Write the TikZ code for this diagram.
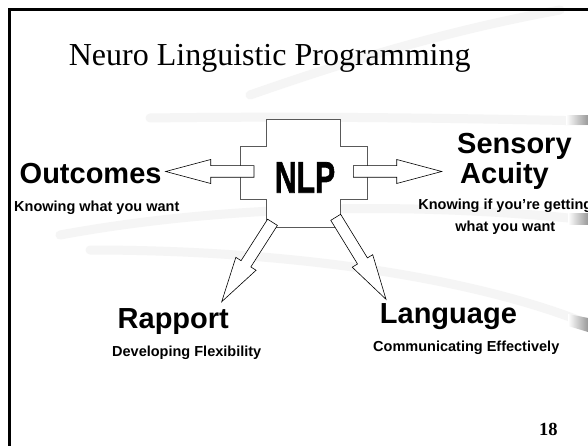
\documentclass[tikz,border=0pt]{standalone}
\usepackage{fontspec}
\setmainfont{Liberation Serif}
\newfontfamily\arialf{Liberation Sans}
\newfontfamily\hubfont[FakeBold=1.6]{Liberation Sans Bold}
\usetikzlibrary{calc}

\tikzset{
  headlbl/.style={inner sep=0pt, font=\arialf\bfseries\fontsize{29}{29}\selectfont},
  sublbl/.style={inner sep=0pt, font=\arialf\bfseries\fontsize{14.5}{14.5}\selectfont},
  blockarrow/.style={draw=black, line width=0.6pt, fill=white, line join=miter},
  hubshape/.style={draw=black!65, line width=1pt, fill=white},
  swoosh/.style={draw=black!4, line width=9pt, line cap=round},
}

% block arrow from a tail coordinate to a tip coordinate
% #1 = tail, #2 = tip
\newcommand\blockarr[2]{%
  \coordinate (#1-hb) at ($(#2)!45pt!(#1)$);
  \path[blockarrow]
    ($(#1)!5.8pt!90:(#2)$) --
    ($(#1-hb)!5.8pt!90:(#2)$) --
    ($(#1-hb)!12pt!90:(#2)$) --
    (#2) --
    ($(#1-hb)!12pt!-90:(#2)$) --
    ($(#1-hb)!5.8pt!-90:(#2)$) --
    ($(#1)!5.8pt!-90:(#2)$) -- cycle;
}

\begin{document}
\begin{tikzpicture}[x=1pt, y=-1pt]
\useasboundingbox (0,0) rectangle (588,446);
\fill[white] (0,0) rectangle (588,446);

% faint background swooshes
\draw[swoosh] (150,118) .. controls (300,116) and (450,118) .. (588,121);
\draw[swoosh] (60,235) .. controls (250,200) and (450,205) .. (588,220);
\draw[swoosh] (90,250) .. controls (300,250) and (480,280) .. (588,324);
\draw[swoosh] (250,95) .. controls (350,60) and (450,30) .. (560,10);
\shade[left color=white, right color=black!40] (566,116) rectangle (588,125);
\shade[left color=white, right color=black!40] (568,214) rectangle (588,224);
\shade[left color=white, right color=black!40] (568,314) -- (588,318) -- (588,332) -- (568,326) -- cycle;

% slide frame
\draw[line width=3pt] (9.5,446) -- (9.5,9.5) -- (588,9.5);

% title
\node[inner sep=0pt, anchor=base, font=\fontsize{32}{32}\selectfont] (title) at (269.7,65.7) {Neuro Linguistic Programming};

% central hub
\path[hubshape] (266.7,120) -- (340.7,120) -- (340.7,146.7) -- (367.3,146.7)
  -- (367.3,200) -- (340.7,200) -- (340.7,227) -- (266.7,227) -- (266.7,200)
  -- (240,200) -- (240,146.7) -- (266.7,146.7) -- cycle;
\node[inner sep=0pt, anchor=base] (nlp) at (305,192.7)
  {\scalebox{0.68}[1]{\hubfont\fontsize{44.3}{44.3}\selectfont NLP}};

% arrow ends
\coordinate (tailL) at (254,171.5);
\coordinate (tipL) at (165.7,171.5);
\coordinate (tailR) at (353.3,171.5);
\coordinate (tipR) at (441.7,171.5);
\coordinate (tailRap) at (272.5,222.3);
\coordinate (tipRap) at (221.7,301.7);
\coordinate (tailLang) at (335.7,217.3);
\coordinate (tipLang) at (386,299.3);

\blockarr{tailL}{tipL}
\blockarr{tailR}{tipR}
\blockarr{tailRap}{tipRap}
\blockarr{tailLang}{tipLang}

% labels
\node[headlbl, anchor=base west] (outc) at (19.5,183.3) {Outcomes};
\node[sublbl, anchor=base west] (outcsub) at (14,211.7) {Knowing what you want};

\node[headlbl, anchor=base west] (sens) at (457,154) {Sensory};
\node[headlbl, anchor=base west] (acu) at (460,183.3) {Acuity};
\node[sublbl, anchor=base] (acusub1) at (505.3,210) {Knowing if you’re getting};
\node[sublbl, anchor=base] (acusub2) at (505.3,231) {what you want};

\node[headlbl, anchor=base west] (rap) at (117.5,328.3) {Rapport};
\node[sublbl, anchor=base west] (rapsub) at (112,356.7) {Developing Flexibility};

\node[headlbl, anchor=base west] (lang) at (379.7,323.3) {Language};
\node[sublbl, anchor=base west] (langsub) at (373,351.7) {Communicating Effectively};

\node[inner sep=0pt, anchor=base east, font=\bfseries\fontsize{18.5}{18.5}\selectfont] (pg) at (557.8,435) {18};
\end{tikzpicture}
\end{document}
